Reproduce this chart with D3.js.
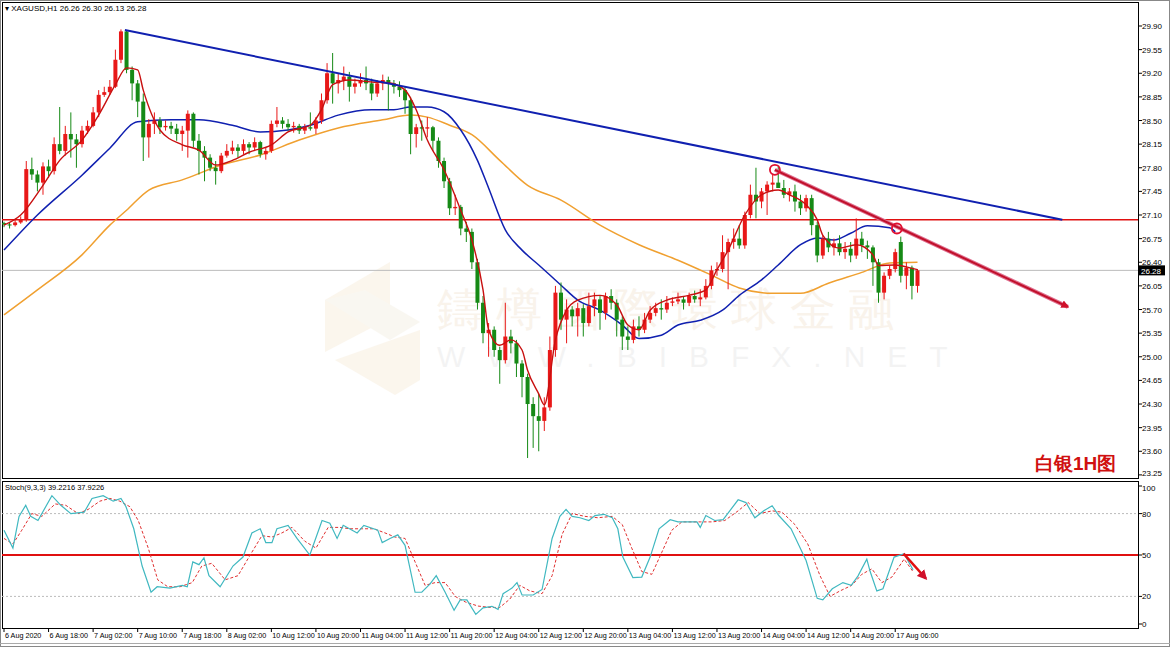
<!DOCTYPE html>
<html><head><meta charset="utf-8">
<script src="https://cdn.jsdelivr.net/npm/d3@7/dist/d3.min.js"></script>
<style>body{margin:0;background:#fff}svg{display:block}text{font-family:"Liberation Sans",Arial,sans-serif}</style>
</head><body><svg id="c" width="1170" height="647"></svg>
<script>
// [open, high, low, close] per H1 bar
const candles = [
[26.98,27.00,26.92,26.96],[26.96,26.99,26.90,26.95],[26.95,27.03,26.93,26.99],[26.99,27.08,26.97,27.03],
[27.03,27.90,27.00,27.78],[27.78,27.95,27.62,27.70],[27.70,27.76,27.45,27.58],[27.58,27.88,27.40,27.82],
[27.82,27.92,27.65,27.75],[27.75,28.25,27.70,28.15],[28.15,28.70,28.00,28.05],[28.05,28.42,27.98,28.30],
[28.30,28.62,27.95,28.22],[28.22,28.30,27.80,28.15],[28.15,28.42,28.10,28.35],[28.35,28.50,28.30,28.42],
[28.42,28.70,28.40,28.62],[28.62,28.95,28.55,28.88],[28.88,29.00,28.85,28.92],[28.92,29.10,28.88,29.00],
[29.00,29.55,28.98,29.40],[29.40,29.85,29.35,29.82],[29.82,29.84,29.20,29.25],[29.25,29.30,28.80,29.05],
[29.05,29.10,28.55,28.78],[28.78,28.90,27.90,28.25],[28.25,28.52,27.95,28.45],[28.45,28.62,28.30,28.50],
[28.50,28.55,28.30,28.40],[28.40,28.50,28.35,28.42],[28.42,28.48,28.30,28.38],[28.38,28.45,28.20,28.30],
[28.30,28.42,28.05,28.35],[28.35,28.65,27.95,28.60],[28.60,28.62,28.10,28.20],[28.20,28.30,27.70,28.05],
[28.05,28.12,27.60,27.95],[27.95,28.00,27.75,27.80],[27.80,27.90,27.55,27.75],[27.75,28.02,27.72,27.98],
[27.98,28.15,27.95,28.05],[28.05,28.20,28.00,28.10],[28.10,28.15,27.95,28.05],[28.05,28.22,28.00,28.15],
[28.15,28.18,28.00,28.10],[28.10,28.25,28.05,28.18],[28.18,28.20,27.95,28.00],[28.00,28.10,27.92,28.05],
[28.05,28.50,28.02,28.45],[28.45,28.70,28.40,28.50],[28.50,28.55,28.38,28.45],[28.45,28.52,28.35,28.40],
[28.40,28.48,28.32,28.42],[28.42,28.45,28.30,28.35],[28.35,28.45,28.30,28.40],[28.40,28.62,28.35,28.38],
[28.38,28.55,28.30,28.50],[28.50,28.90,28.45,28.80],[28.80,29.35,28.75,29.20],[29.20,29.50,28.75,29.05],
[29.05,29.20,28.90,29.10],[29.10,29.30,28.95,29.15],[29.15,29.22,28.78,29.00],[29.00,29.12,28.90,29.05],
[29.05,29.20,29.00,29.10],[29.10,29.30,28.95,29.05],[29.05,29.12,28.80,28.90],[28.90,29.10,28.85,29.05],
[29.05,29.18,28.95,29.10],[29.10,29.15,28.65,29.05],[29.05,29.10,28.90,29.00],[29.00,29.08,28.85,28.95],
[28.95,29.00,28.60,28.80],[28.80,28.85,28.00,28.30],[28.30,28.45,28.10,28.40],[28.40,28.50,28.20,28.38],
[28.38,28.55,28.25,28.40],[28.40,28.42,28.05,28.20],[28.20,28.25,27.80,27.90],[27.90,27.95,27.50,27.60],
[27.60,27.65,27.10,27.20],[27.20,27.40,27.10,27.22],[27.22,27.25,26.80,26.90],[26.90,27.00,26.70,26.85],
[26.85,26.90,26.30,26.40],[26.40,26.45,25.70,25.80],[25.80,25.90,25.20,25.35],[25.35,25.50,25.00,25.40],
[25.40,25.45,25.00,25.10],[25.10,25.15,24.60,24.95],[24.95,25.80,24.90,25.30],[25.30,25.40,25.05,25.20],
[25.20,25.25,24.70,24.90],[24.90,24.95,24.40,24.70],[24.70,24.75,23.50,24.30],[24.30,24.40,23.65,24.12],
[24.12,24.45,23.60,24.05],[24.05,24.40,23.90,24.25],[24.25,25.30,24.20,25.10],[25.10,26.05,25.00,25.95],
[25.95,26.10,25.40,25.55],[25.55,25.85,25.20,25.70],[25.70,25.75,25.45,25.60],[25.60,25.80,25.30,25.72],
[25.72,25.78,25.30,25.50],[25.50,25.95,25.45,25.75],[25.75,25.95,25.60,25.85],[25.85,25.90,25.40,25.65],
[25.65,25.95,25.55,25.90],[25.90,26.00,25.70,25.80],[25.80,25.85,25.30,25.55],[25.55,25.60,25.10,25.30],
[25.30,25.45,25.10,25.25],[25.25,25.55,25.20,25.45],[25.45,25.60,25.30,25.40],[25.40,25.65,25.35,25.55],
[25.55,25.75,25.50,25.65],[25.65,25.80,25.60,25.72],[25.72,25.85,25.55,25.70],[25.70,25.90,25.65,25.80],
[25.80,25.88,25.75,25.82],[25.82,25.95,25.78,25.85],[25.85,25.90,25.70,25.80],[25.80,25.95,25.75,25.90],
[25.90,25.98,25.80,25.85],[25.85,26.00,25.75,25.88],[25.88,26.15,25.85,26.05],[26.05,26.35,26.00,26.28],
[26.28,26.40,26.20,26.30],[26.30,26.80,26.25,26.55],[26.55,26.75,26.00,26.70],[26.70,26.90,26.60,26.75],
[26.75,26.95,26.60,26.65],[26.65,27.15,26.60,27.10],[27.10,27.55,27.05,27.40],[27.40,27.80,27.05,27.30],
[27.30,27.50,27.20,27.45],[27.45,27.60,27.10,27.55],[27.55,27.70,27.45,27.58],[27.58,27.82,27.50,27.50],
[27.50,27.62,27.35,27.40],[27.40,27.50,27.30,27.45],[27.45,27.55,27.15,27.30],[27.30,27.40,27.10,27.20],
[27.20,27.40,27.15,27.35],[27.35,27.40,26.80,26.95],[26.95,27.00,26.40,26.50],[26.50,26.80,26.45,26.75],
[26.75,26.85,26.55,26.62],[26.62,26.75,26.50,26.68],[26.68,26.80,26.50,26.55],[26.55,26.70,26.45,26.60],
[26.60,26.70,26.40,26.50],[26.50,27.05,26.45,26.75],[26.75,26.85,26.55,26.65],[26.65,26.72,26.45,26.62],
[26.62,26.65,26.05,26.40],[26.40,26.45,25.80,25.95],[25.95,26.25,25.85,26.20],[26.20,26.35,26.15,26.30],
[26.30,26.60,26.25,26.55],[26.70,26.78,26.10,26.20],[26.20,26.40,26.00,26.32],[26.32,26.35,25.85,26.05],
[26.05,26.30,25.95,26.28]
];
// moving averages as [bar, price]
const maFast = [[0,26.95],[3,27.10],[7,27.54],[10,27.91],[14,28.21],[17,28.58],[20,29.03],[22,29.28],[24,29.25],[25,28.95],[28,28.36],[32,28.14],[35,28.06],[38,27.84],[41,27.91],[44,28.03],[48,28.14],[51,28.33],[55,28.43],[57,28.66],[59,29.03],[62,29.10],[66,29.07],[69,29.06],[72,28.95],[74,28.66],[76,28.21],[79,27.77],[82,27.17],[84,26.73],[86,25.99],[87,25.40],[89,25.17],[91,25.25],[93,25.10],[94,24.80],[96,24.45],[97,24.29],[99,25.25],[101,25.69],[103,25.84],[107,25.91],[110,25.77],[112,25.47],[114,25.40],[116,25.69],[119,25.84],[123,25.91],[126,25.99],[128,26.29],[130,26.58],[133,27.10],[136,27.40],[139,27.47],[141,27.40],[144,27.25],[146,27.03],[147,26.80],[150,26.61],[153,26.66],[156,26.51],[157,26.35],[160,26.36],[163,26.31],[164,26.29]];
const maMid = [[0,26.58],[6,27.10],[14,27.69],[19,28.09],[24,28.48],[30,28.51],[35,28.51],[41,28.43],[46,28.33],[51,28.36],[55,28.43],[60,28.58],[66,28.66],[70,28.66],[73,28.70],[76,28.70],[79,28.63],[82,28.36],[85,27.91],[87,27.50],[90,26.88],[93,26.58],[96,26.36],[100,26.06],[103,25.84],[107,25.69],[111,25.47],[114,25.27],[118,25.32],[121,25.47],[125,25.54],[129,25.69],[132,25.91],[136,26.14],[139,26.36],[143,26.66],[146,26.76],[149,26.73],[152,26.83],[155,26.94],[159,26.91],[160,26.85]];
const maSlow = [[0,25.62],[6,25.99],[14,26.51],[19,26.95],[22,27.17],[26,27.47],[32,27.62],[39,27.84],[46,27.99],[53,28.21],[60,28.39],[68,28.51],[73,28.58],[76,28.55],[80,28.43],[84,28.29],[89,27.91],[94,27.54],[100,27.32],[107,26.95],[114,26.66],[121,26.43],[127,26.21],[132,26.02],[138,25.94],[143,25.94],[148,26.09],[154,26.25],[159,26.39],[164,26.40]];
// stochastic [bar, value]
const stochMain = [[0,68],[1.6,55],[2.7,78],[3.9,86],[4.8,78],[6.1,75],[8.6,93],[10.2,86],[12,80],[14.4,81],[15.8,91],[17.8,93],[19.6,89],[21,91],[21.9,85],[23.3,69],[24.8,42],[26.4,23],[27.5,27],[29.8,26],[32,28],[32.9,27],[33.9,45],[35,43],[35.9,48],[36.8,35],[38.8,27],[41.1,42],[42.9,48.5],[44.5,66],[46,69],[47,59],[48.1,59],[49,69],[51,71.5],[52.6,62],[54.9,50],[57.1,75],[58.5,73],[59.8,62],[60.9,71.5],[63.4,66],[64.6,71.5],[67.1,68],[67.9,59],[69.3,62],[70.7,64.6],[72,57],[73.8,23],[75,23],[76.5,29],[77.6,35],[79.2,23],[80.8,10],[81.9,17.5],[83.1,17.5],[84.7,7],[86,11.7],[87.6,12.8],[88.7,10.6],[89.6,22],[91.2,26],[92.1,30],[93,21],[95,21],[96.6,25],[98.4,62],[99.8,78],[100.9,83],[102,78],[103.4,77],[105,75],[106.1,78.6],[107.7,79.5],[109.2,77],[110.2,69],[111.1,48.5],[112.9,33.6],[114.5,34],[116,48.5],[117.6,69],[119.6,75.6],[121,74],[124.4,74],[125,70],[126,78.6],[127.6,75],[129.1,75.6],[131.8,90],[133.2,88],[134.8,77],[136.4,82],[137.9,85.7],[139.1,78.6],[141.3,69],[144,46],[146,18.6],[147,17.5],[148.7,25.5],[150.6,30],[152.1,28],[153.3,34.7],[154.9,47],[155.5,38],[156.7,24],[157.8,25.5],[159.8,48.5],[161.6,51],[163.2,39.2]];
const stochSignal = [[0,62],[1.6,58],[3.2,68],[5,80],[6.8,78],[9.2,87],[11.1,86],[13.3,80],[15.1,83],[17.2,89],[19,91],[20.8,89],[22.6,85],[24.1,75],[25.9,55],[27.6,32],[29.4,27],[31.6,27],[33.8,30],[35.5,42],[37.3,44],[39.7,32],[42,35],[44.2,50],[46.3,64],[48.1,63],[49.9,66],[51.7,70],[54,60],[56,55],[58.2,70],[60.3,70],[62.1,69],[64.3,69],[66.4,69],[68.4,66],[70.2,63],[72,62],[73.8,45],[75.6,28],[77.4,30],[79.2,30],[81,20],[82.8,16],[85.1,13],[87.3,12],[89,12],[90.8,18],[92.6,28],[94.4,24],[96.6,22],[98.4,35],[100.2,65],[102,80],[104.3,78],[106.6,77],[109.2,78],[111,72],[112.7,55],[114.5,38],[116.3,36],[118.1,52],[119.9,68],[121.7,74],[125,74],[127.1,74],[129.4,75],[131.8,82],[133.6,88],[135.7,80],[137.9,82],[139.7,81],[142,72],[144.3,58],[146.5,35],[148.3,20],[150.1,24],[152.2,28],[154,36],[155.8,40],[157.6,30],[159.4,34],[161.6,47],[163.2,37.9]];
const priceTicks = [29.90,29.55,29.20,28.85,28.50,28.15,27.80,27.45,27.10,26.75,26.40,26.05,25.70,25.35,25.00,24.65,24.30,23.95,23.60,23.25];
const stochTicks = [100,80,50,20,0];
const timeLabels = ["6 Aug 2020","6 Aug 18:00","7 Aug 02:00","7 Aug 10:00","7 Aug 18:00","8 Aug 02:00","10 Aug 12:00","10 Aug 20:00","11 Aug 04:00","11 Aug 12:00","11 Aug 20:00","12 Aug 04:00","12 Aug 12:00","12 Aug 20:00","13 Aug 04:00","13 Aug 12:00","13 Aug 20:00","14 Aug 04:00","14 Aug 12:00","14 Aug 20:00","17 Aug 06:00"];
const levelPrice = 27.03, lastPrice = 26.28;
const blueTrend = [[21.7,29.84],[190,27.03]];
const redTrend = [[138.4,27.77],[191,25.74]];
const touchPoints = [[138.4,27.77],[160.3,26.90]];

const svg = d3.select("#c");
const x = d3.scaleLinear().domain([0,164]).range([4,917.5]);
const y = d3.scaleLinear().domain([23.25,29.90]).range([474.9,26]);
const ys = d3.scaleLinear().domain([0,100]).range([624,486]);
const L=2,R=1138;
svg.append("rect").attr("x",0.5).attr("y",0.5).attr("width",1169).attr("height",646).attr("fill","#fff").attr("stroke","#888");
svg.append("rect").attr("x",L+0.5).attr("y",2.5).attr("width",R-L).attr("height",476).attr("fill","none").attr("stroke","#000");
svg.append("rect").attr("x",L+0.5).attr("y",481.5).attr("width",R-L).attr("height",147).attr("fill","none").attr("stroke","#000");
svg.append("line").attr("x1",0).attr("x2",1170).attr("y1",643.5).attr("y2",643.5).attr("stroke","#aaa");

// watermark
const wm = svg.append("g").attr("opacity",0.09);
wm.append("path").attr("d","M390,262 L390,318 L325,352 L325,300 Z").attr("fill","#d9a040");
wm.append("path").attr("d","M325,300 L390,340 L420,322 L365,290 Z").attr("fill","#c8b070");
wm.append("path").attr("d","M335,360 L395,395 L420,380 L420,330 Z").attr("fill","#d9a040");
wm.append("text").attr("x",437).attr("y",325).attr("font-size",46).attr("fill","#c08030").attr("font-family","Noto Sans CJK TC").text("鑄 樽 國 際 環 球 金 融");
wm.append("text").attr("x",437).attr("y",367).attr("font-size",30).attr("fill","#888").attr("letter-spacing",22).text("WWW.BIBFX.NET");

svg.append("line").attr("x1",L).attr("x2",R).attr("y1",y(lastPrice)).attr("y2",y(lastPrice)).attr("stroke","#bbb");
svg.append("line").attr("x1",L).attr("x2",R).attr("y1",y(levelPrice)).attr("y2",y(levelPrice)).attr("stroke","#e01010").attr("stroke-width",1.3);

const ln = d3.line().x(d=>x(d[0])).y(d=>y(d[1])).curve(d3.curveMonotoneX);
svg.append("path").attr("d",ln(maSlow)).attr("fill","none").attr("stroke","#f0a030").attr("stroke-width",1.5);
svg.append("path").attr("d",ln(maMid)).attr("fill","none").attr("stroke","#1020b0").attr("stroke-width",1.5);

const cg = svg.append("g");
candles.forEach((d,i)=>{
  const up = d[3]>=d[0], col = up?"#e81818":"#168a16";
  cg.append("line").attr("x1",x(i)).attr("x2",x(i)).attr("y1",y(d[1])).attr("y2",y(d[2])).attr("stroke",col).attr("stroke-width",1);
  const t=y(Math.max(d[0],d[3])), b=y(Math.min(d[0],d[3]));
  cg.append("rect").attr("x",x(i)-2).attr("y",t).attr("width",4).attr("height",Math.max(1,b-t)).attr("fill",col);
});
svg.append("path").attr("d",ln(maFast)).attr("fill","none").attr("stroke","#c81010").attr("stroke-width",1.4);

svg.append("line").attr("x1",x(blueTrend[0][0])).attr("y1",y(blueTrend[0][1])).attr("x2",x(blueTrend[1][0])).attr("y2",y(blueTrend[1][1])).attr("stroke","#1020b0").attr("stroke-width",2);
const defs=svg.append("defs");
defs.append("marker").attr("id","ah").attr("viewBox","0 0 10 10").attr("refX",8).attr("refY",5).attr("markerWidth",4).attr("markerHeight",4).attr("orient","auto").append("path").attr("d","M0,0 L10,5 L0,10 Z").attr("fill","#d0102a");
svg.append("line").attr("x1",x(redTrend[0][0])).attr("y1",y(redTrend[0][1])).attr("x2",x(redTrend[1][0])).attr("y2",y(redTrend[1][1])).attr("stroke","#e07090").attr("stroke-width",4);
svg.append("line").attr("x1",x(redTrend[0][0])).attr("y1",y(redTrend[0][1])).attr("x2",x(redTrend[1][0])).attr("y2",y(redTrend[1][1])).attr("stroke","#c0102a").attr("stroke-width",2).attr("marker-end","url(#ah)");
touchPoints.forEach(p=>svg.append("circle").attr("cx",x(p[0])).attr("cy",y(p[1])).attr("r",5).attr("fill","none").attr("stroke","#e01030").attr("stroke-width",1.8));

const pa = svg.append("g").attr("font-size",8).attr("fill","#000");
priceTicks.forEach(p=>{
  pa.append("line").attr("x1",R).attr("x2",R+4).attr("y1",y(p)).attr("y2",y(p)).attr("stroke","#000");
  pa.append("text").attr("x",R+4).attr("y",y(p)+(p===23.25?1:3)).text(p.toFixed(2));
});
pa.append("rect").attr("x",R+1).attr("y",y(lastPrice)-5).attr("width",26).attr("height",10).attr("fill","#000");
pa.append("text").attr("x",R+3).attr("y",y(lastPrice)+3.5).attr("fill","#fff").text(lastPrice.toFixed(2));

svg.append("text").attr("x",5).attr("y",11).attr("font-size",8).text("▾ XAGUSD,H1  26.26 26.30 26.13 26.28");
svg.append("text").attr("x",1035).attr("y",470).attr("font-size",19).attr("font-weight","bold").attr("fill","#d01010").attr("font-family","Noto Sans CJK SC").text("白银1H图");

[80,20].forEach(v=>svg.append("line").attr("x1",L).attr("x2",R).attr("y1",ys(v)).attr("y2",ys(v)).attr("stroke","#bbb").attr("stroke-dasharray","2,2"));
svg.append("line").attr("x1",L).attr("x2",R).attr("y1",ys(50)).attr("y2",ys(50)).attr("stroke","#e01010").attr("stroke-width",2);
const sl = d3.line().x(d=>x(d[0])).y(d=>ys(d[1]));
svg.append("path").attr("d",sl(stochSignal)).attr("fill","none").attr("stroke","#e03030").attr("stroke-width",1).attr("stroke-dasharray","3,2");
svg.append("path").attr("d",sl(stochMain)).attr("fill","none").attr("stroke","#40b8c0").attr("stroke-width",1.2);
svg.append("line").attr("x1",x(161.5)).attr("y1",ys(51)).attr("x2",x(165.5)).attr("y2",ys(33)).attr("stroke","#e01010").attr("stroke-width",2.5).attr("marker-end","url(#ah)");
svg.append("text").attr("x",5).attr("y",490).attr("font-size",7.5).text("Stoch(9,3,3) 39.2216 37.9226");
stochTicks.forEach(v=>{
  svg.append("line").attr("x1",R).attr("x2",R+4).attr("y1",ys(v)).attr("y2",ys(v)).attr("stroke","#000");
  svg.append("text").attr("x",R+4).attr("y",ys(v)+(v===100?5:3)).attr("font-size",8).text(v);
});
timeLabels.forEach((t,k)=>{
  const xx = x(k*8);
  svg.append("line").attr("x1",xx).attr("x2",xx).attr("y1",628).attr("y2",632).attr("stroke","#000");
  svg.append("text").attr("x",xx+1).attr("y",638).attr("font-size",7.2).text(t);
});
</script></body></html>
